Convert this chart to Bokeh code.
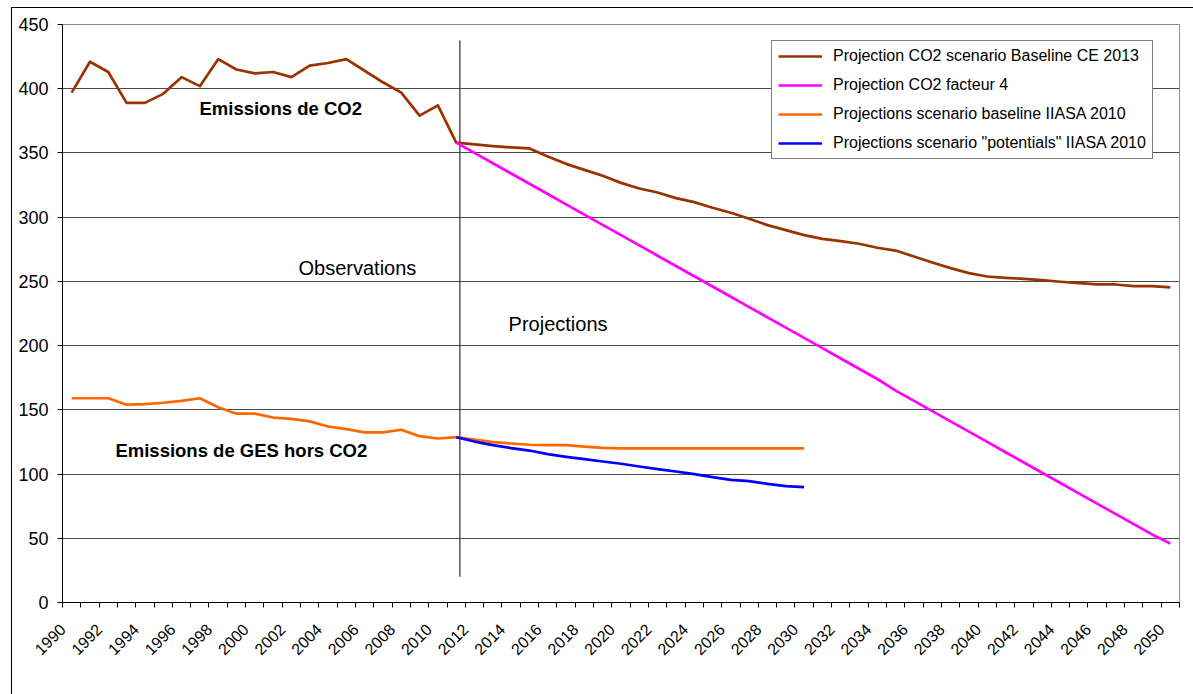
import math
from bokeh.plotting import figure
from bokeh.models import Range1d, FixedTicker, Legend, LegendItem, Label
from bokeh.embed import file_html
from bokeh.resources import INLINE

# ---------------- data ----------------
co2_years = list(range(1990, 2051))
co2_values = [397, 421, 413, 389, 389, 396, 409, 402, 423, 415, 412, 413, 409, 418,
              420, 423, 414, 405, 397, 379, 387, 358,
              356.6, 355.3, 354.3, 353.5, 347.2, 341.5, 336.8, 332.2, 326.7, 322.3,
              319.2, 314.8, 311.7, 307.3, 303.4, 298.7, 293.8, 289.9, 286, 283.1,
              281.3, 279.3, 276.2, 274, 269.4, 264.7, 260.3, 256.4, 253.8, 252.8,
              252, 251, 249.7, 248.6, 247.6, 247.6, 246.3, 246.3, 245.3]

f4_years = list(range(2011, 2051))
f4_values = [358, 350, 342, 334, 326, 318, 310, 302, 294, 286,
             278, 270, 262, 254, 246, 238, 230, 222, 214, 206,
             198, 190, 182, 174, 165, 157, 149, 141, 133, 125,
             117, 109, 101, 93, 85, 77, 69, 61, 53, 46]

iiasa_base_years = list(range(1990, 2031))
iiasa_base_values = [159, 159, 159, 154, 154.5, 155.5, 157, 159, 152, 147, 147, 144,
                     143, 141, 137, 135, 132.5, 132.5, 134.5, 129.5, 127.7, 128.7,
                     126.9, 124.8, 123.8, 122.8, 122.5, 122.5, 121.4, 120.4,
                     120, 120, 120, 120, 120, 120, 120, 120, 120, 120, 120]

iiasa_pot_years = list(range(2011, 2031))
iiasa_pot_values = [128.7, 125.3, 122.5, 120.2, 118.3, 115.5, 113.4, 111.6, 109.8, 108,
                    105.9, 103.8, 102, 99.9, 97.6, 95.5, 94.5, 92.4, 90.6, 89.8]

series_names = ["Projection CO2 scenario Baseline CE 2013",
                "Projection CO2 facteur 4",
                "Projections scenario baseline IIASA 2010",
                "Projections scenario \"potentials\" IIASA 2010"]
series_colors = ["#993300", "#FF00FF", "#FF6600", "#0000FF"]

y_ticks = [0, 50, 100, 150, 200, 250, 300, 350, 400, 450]
x_label_years = list(range(1990, 2051, 2))
x_tick_labels = [str(y) for y in x_label_years]
# rotated labels end under their category (Excel style) -> shifted label anchor
label_shift = -0.5

# divider between observations and projections
divider_x = 2011.2
divider_y0 = 20
divider_y1 = 437.5

FONT = "Liberation Sans"

# ---------------- figure ----------------
p = figure(width=1193, height=694, output_backend="svg", toolbar_location=None,
           x_range=Range1d(1989.5, 2050.5), y_range=Range1d(0, 450),
           min_border_left=62, min_border_right=14, min_border_top=24,
           min_border_bottom=92)
p.background_fill_color = "white"
p.border_fill_color = None
p.outline_line_color = "#8c8c8c"
p.outline_line_width = 1
# outer chart border (top and left edges visible, the rest is cropped)
p.styles = {
    "background": ("linear-gradient(#000,#000) 11px 7px / 1px 100% no-repeat, "
                   "linear-gradient(#000,#000) 11px 7px / 100% 1px no-repeat, #fff"),
}

# axes
xa = p.xaxis[0]
label_pos = [y + label_shift for y in x_label_years]
xa.ticker = FixedTicker(ticks=label_pos,
                        minor_ticks=[y - 0.5 for y in range(1990, 2052)])
xa.major_label_overrides = {t: lab for t, lab in zip(label_pos, x_tick_labels)}
xa.major_label_orientation = math.pi / 4
xa.major_tick_line_color = None
xa.major_tick_out = 0
xa.major_tick_in = 0
xa.minor_tick_line_color = "black"
xa.minor_tick_out = 5
xa.minor_tick_in = 0
xa.axis_line_color = "black"
xa.major_label_text_font = FONT
xa.major_label_text_font_size = "16px"
xa.major_label_text_color = "black"
xa.major_label_standoff = 19

ya = p.yaxis[0]
ya.ticker = FixedTicker(ticks=y_ticks)
ya.axis_line_color = "black"
ya.major_tick_line_color = "black"
ya.major_tick_out = 5
ya.major_tick_in = 0
ya.minor_tick_line_color = None
ya.major_label_text_font = FONT
ya.major_label_text_font_size = "18px"
ya.major_label_text_color = "black"
ya.major_label_standoff = 9

p.xgrid.visible = False
p.ygrid.ticker = FixedTicker(ticks=y_ticks)
p.ygrid.grid_line_color = "#4a4a4a"
p.ygrid.grid_line_width = 1

# divider
p.segment(x0=[divider_x], y0=[divider_y0], x1=[divider_x], y1=[divider_y1],
          line_color="#3c3c3c", line_width=1.3)

# series
renderers = []
for xs, ys, col in [(co2_years, co2_values, series_colors[0]),
                    (f4_years, f4_values, series_colors[1]),
                    (iiasa_base_years, iiasa_base_values, series_colors[2]),
                    (iiasa_pot_years, iiasa_pot_values, series_colors[3])]:
    r = p.line(xs, ys, line_color=col, line_width=2.7, line_join="round")
    renderers.append(r)

legend = Legend(items=[LegendItem(label=n, renderers=[r])
                       for n, r in zip(series_names, renderers)],
                location=(709, 443))
legend.border_line_color = "black"
legend.border_line_width = 1
legend.background_fill_color = "white"
legend.background_fill_alpha = 1
legend.padding = 6
legend.spacing = 11
legend.margin = 0
legend.label_height = 18
legend.glyph_height = 18
legend.glyph_width = 44
legend.label_standoff = 11
legend.label_text_font = FONT
legend.label_text_font_size = "16px"
legend.label_text_color = "black"
legend.label_text_baseline = "middle"
p.add_layout(legend)

# annotations
bold_labels = [("Emissions de CO2", 1996.98, 384.6),
               ("Emissions de GES hors CO2", 1992.39, 118.3)]
for txt, lx, ly in bold_labels:
    p.add_layout(Label(x=lx, y=ly, text=txt, text_font=FONT, text_font_size="18.5px",
                       text_font_style="bold", text_color="black",
                       text_baseline="alphabetic", text_align="left"))

plain_labels = [("Observations", 2002.39, 260.8),
                ("Projections", 2013.86, 217.2)]
for txt, lx, ly in plain_labels:
    p.add_layout(Label(x=lx, y=ly, text=txt, text_font=FONT, text_font_size="20px",
                       text_color="black", text_baseline="alphabetic",
                       text_align="left"))

open("out.html", "w").write(file_html(p, INLINE))
